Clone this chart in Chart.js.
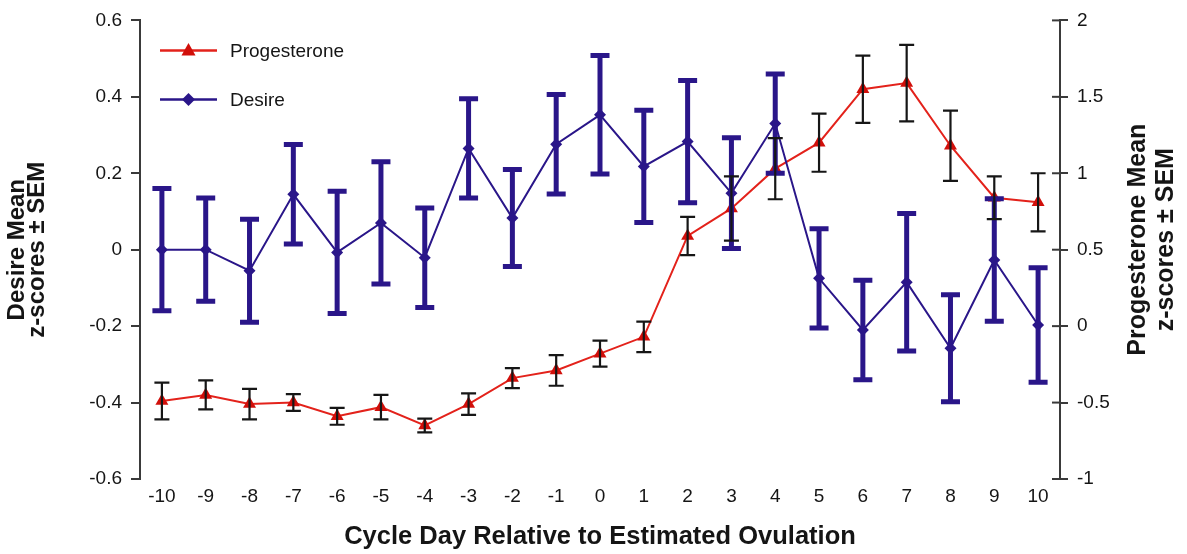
<!DOCTYPE html>
<html>
<head>
<meta charset="utf-8">
<script src="https://cdn.jsdelivr.net/npm/chart.js@4/dist/chart.umd.min.js"></script>
<style>
  html, body { margin: 0; padding: 0; background: #ffffff; }
  #wrap { width: 1187px; height: 554px; }
</style>
</head>
<body>
<div id="wrap"><canvas id="chart" width="1187" height="554"></canvas></div>
<script>
// Cycle days relative to estimated ovulation
const days = ['-10','-9','-8','-7','-6','-5','-4','-3','-2','-1','0','1','2','3','4','5','6','7','8','9','10'];

// Desire mean z-scores and SEM
const desireMean = [0.00, 0.00, -0.055, 0.145, -0.007, 0.07, -0.021, 0.265, 0.083, 0.276, 0.353, 0.218, 0.283, 0.148, 0.33, -0.075, -0.21, -0.085, -0.258, -0.027, -0.197];
const desireSEM  = [0.16, 0.135, 0.135, 0.13, 0.16, 0.16, 0.13, 0.13, 0.127, 0.13, 0.155, 0.147, 0.16, 0.145, 0.13, 0.13, 0.13, 0.18, 0.14, 0.16, 0.15];

// Progesterone mean z-scores and SEM
const progMean = [-0.49, -0.45, -0.51, -0.50, -0.59, -0.53, -0.65, -0.51, -0.34, -0.29, -0.18, -0.07, 0.59, 0.77, 1.03, 1.20, 1.55, 1.59, 1.18, 0.84, 0.81];
const progSEM  = [0.12, 0.095, 0.10, 0.055, 0.055, 0.08, 0.045, 0.07, 0.065, 0.10, 0.085, 0.10, 0.125, 0.21, 0.20, 0.19, 0.22, 0.25, 0.23, 0.14, 0.19];

// Axis tick values
const leftTicks  = [-0.6, -0.4, -0.2, 0, 0.2, 0.4, 0.6];
const rightTicks = [-1, -0.5, 0, 0.5, 1, 1.5, 2];

const RED = '#e3221b';
const RED_MARK = '#d10f0a';
const NAVY = '#2a1689';
const AXIS = '#3a3a3a';
const TEXT = '#151515';
const FONT = "'Liberation Sans', Arial, sans-serif";

Chart.defaults.font.family = FONT;
Chart.defaults.color = TEXT;

// Vertical error bars drawn from each dataset's own SEM array
function drawErrorBars(chart, meta, errs, color, width, cap) {
  const ctx = chart.ctx;
  const scale = chart.scales[meta.yAxisID];
  const ds = chart.data.datasets[meta.index];
  ctx.save();
  ctx.strokeStyle = color;
  ctx.lineWidth = width;
  ctx.lineCap = 'butt';
  meta.data.forEach((pt, i) => {
    const v = ds.data[i];
    const e = errs[i];
    const yTop = scale.getPixelForValue(v + e);
    const yBot = scale.getPixelForValue(v - e);
    const x = pt.x;
    ctx.beginPath();
    ctx.moveTo(x, yTop); ctx.lineTo(x, yBot);
    ctx.moveTo(x - cap / 2, yTop); ctx.lineTo(x + cap / 2, yTop);
    ctx.moveTo(x - cap / 2, yBot); ctx.lineTo(x + cap / 2, yBot);
    ctx.stroke();
  });
  ctx.restore();
}

const errorBarPlugin = {
  id: 'errorBars',
  afterDatasetDraw(chart, args) {
    const ds = chart.data.datasets[args.index];
    if (ds.label === 'Desire') {
      drawErrorBars(chart, args.meta, desireSEM, NAVY, 5, 19);
    }
  },
  afterDatasetsDraw(chart) {
    const idx = chart.data.datasets.findIndex(d => d.label === 'Progesterone');
    const meta = chart.getDatasetMeta(idx);
    drawErrorBars(chart, meta, progSEM, '#161616', 2.2, 15);
  }
};

// Right axis ticks cross the axis line; add the inner half
const crossTicksPlugin = {
  id: 'crossTicks',
  afterDraw(chart) {
    const s = chart.scales.yR;
    const ctx = chart.ctx;
    ctx.save();
    ctx.strokeStyle = AXIS;
    ctx.lineWidth = 2;
    s.ticks.forEach(t => {
      const y = s.getPixelForValue(t.value);
      ctx.beginPath();
      ctx.moveTo(s.left - 8, y);
      ctx.lineTo(s.left, y);
      ctx.stroke();
    });
    ctx.restore();
  }
};

// Right axis title, reading bottom to top like the left one
const rightTitlePlugin = {
  id: 'rightTitle',
  afterDraw(chart) {
    const ctx = chart.ctx;
    const s = chart.scales.yR;
    const cy = (chart.chartArea.top + chart.chartArea.bottom) / 2 - 10;
    ctx.save();
    ctx.fillStyle = TEXT;
    ctx.font = "bold 25px " + FONT;
    ctx.textAlign = 'center';
    ctx.textBaseline = 'middle';
    const lines = ['Progesterone Mean', 'z-scores ± SEM'];
    lines.forEach((line, i) => {
      ctx.save();
      ctx.translate(s.left + 78 + i * 28, cy);
      ctx.rotate(-Math.PI / 2);
      ctx.fillText(line, 0, 0);
      ctx.restore();
    });
    ctx.restore();
  }
};

// Legend inside the plot, top-left
const insideLegendPlugin = {
  id: 'insideLegend',
  afterDraw(chart) {
    const ctx = chart.ctx;
    const a = chart.chartArea;
    const items = chart.data.datasets.slice().sort((p, q) => (p.label === 'Progesterone' ? -1 : 1));
    ctx.save();
    items.forEach((d, i) => {
      const y = a.top + 30 + i * 49;
      const x0 = a.left + 20, x1 = a.left + 77, xm = (x0 + x1) / 2;
      ctx.strokeStyle = d.borderColor;
      ctx.lineWidth = 2.5;
      ctx.beginPath(); ctx.moveTo(x0, y); ctx.lineTo(x1, y); ctx.stroke();
      ctx.fillStyle = d.pointBackgroundColor;
      ctx.beginPath();
      if (d.pointStyle === 'triangle') {
        ctx.moveTo(xm, y - 7.5); ctx.lineTo(xm + 7, y + 5); ctx.lineTo(xm - 7, y + 5);
      } else {
        ctx.moveTo(xm, y - 6.5); ctx.lineTo(xm + 6.5, y); ctx.lineTo(xm, y + 6.5); ctx.lineTo(xm - 6.5, y);
      }
      ctx.closePath(); ctx.fill();
      ctx.fillStyle = TEXT;
      ctx.font = "19px " + FONT;
      ctx.textAlign = 'left';
      ctx.textBaseline = 'middle';
      ctx.fillText(d.label, a.left + 90, y + 1);
    });
    ctx.restore();
  }
};

new Chart(document.getElementById('chart'), {
  type: 'line',
  data: {
    labels: days,
    datasets: [
      {
        label: 'Progesterone',
        data: progMean,
        yAxisID: 'yR',
        order: 2,
        borderColor: RED,
        borderWidth: 2,
        pointStyle: 'triangle',
        pointRadius: 7.5,
        pointBackgroundColor: RED_MARK,
        pointBorderColor: RED_MARK,
        pointBorderWidth: 0,
        tension: 0
      },
      {
        label: 'Desire',
        data: desireMean,
        yAxisID: 'yL',
        order: 1,
        borderColor: NAVY,
        borderWidth: 2,
        pointStyle: 'rectRot',
        pointRadius: 6,
        pointBackgroundColor: NAVY,
        pointBorderColor: NAVY,
        pointBorderWidth: 0,
        tension: 0
      }
    ]
  },
  options: {
    responsive: false,
    animation: false,
    devicePixelRatio: 1,
    layout: { padding: { top: 18, left: 0, right: 0, bottom: 0 } },
    plugins: {
      legend: { display: false },
      tooltip: { enabled: false }
    },
    scales: {
      x: {
        type: 'category',
        offset: true,
        grid: { display: false, drawTicks: false },
        border: { display: false },
        ticks: { font: { size: 19 }, color: TEXT, padding: 6, maxRotation: 0, autoSkip: false },
        title: {
          display: true,
          text: 'Cycle Day Relative to Estimated Ovulation',
          font: { size: 25.5, weight: 'bold' },
          color: TEXT,
          padding: { top: 0, bottom: 2 }
        },
        afterFit(scale) { scale.height = 75; }
      },
      yL: {
        type: 'linear',
        position: 'left',
        min: -0.6,
        max: 0.6,
        afterBuildTicks(scale) { scale.ticks = leftTicks.map(v => ({ value: v })); },
        ticks: {
          font: { size: 19 },
          color: TEXT,
          padding: 9,
          callback: v => String(Math.round(v * 10) / 10)
        },
        grid: { drawOnChartArea: false, tickLength: 9, color: AXIS, lineWidth: 2 },
        border: { display: true, color: AXIS, width: 2 },
        title: {
          display: true,
          text: ['Desire Mean', 'z-scores ± SEM'],
          font: { size: 24, weight: 'bold', lineHeight: 0.85 },
          color: TEXT,
          padding: { top: 7, bottom: 0 }
        },
        afterFit(scale) { scale.width = 140; }
      },
      yR: {
        type: 'linear',
        position: 'right',
        min: -1,
        max: 2,
        afterBuildTicks(scale) { scale.ticks = rightTicks.map(v => ({ value: v })); },
        ticks: {
          font: { size: 19 },
          color: TEXT,
          padding: 9,
          callback: v => String(Math.round(v * 10) / 10)
        },
        grid: { drawOnChartArea: false, tickLength: 8, color: AXIS, lineWidth: 2 },
        border: { display: true, color: AXIS, width: 2 },
        title: { display: false },
        afterFit(scale) { scale.width = 127; }
      }
    }
  },
  plugins: [errorBarPlugin, crossTicksPlugin, rightTitlePlugin, insideLegendPlugin]
});
</script>
</body>
</html>
